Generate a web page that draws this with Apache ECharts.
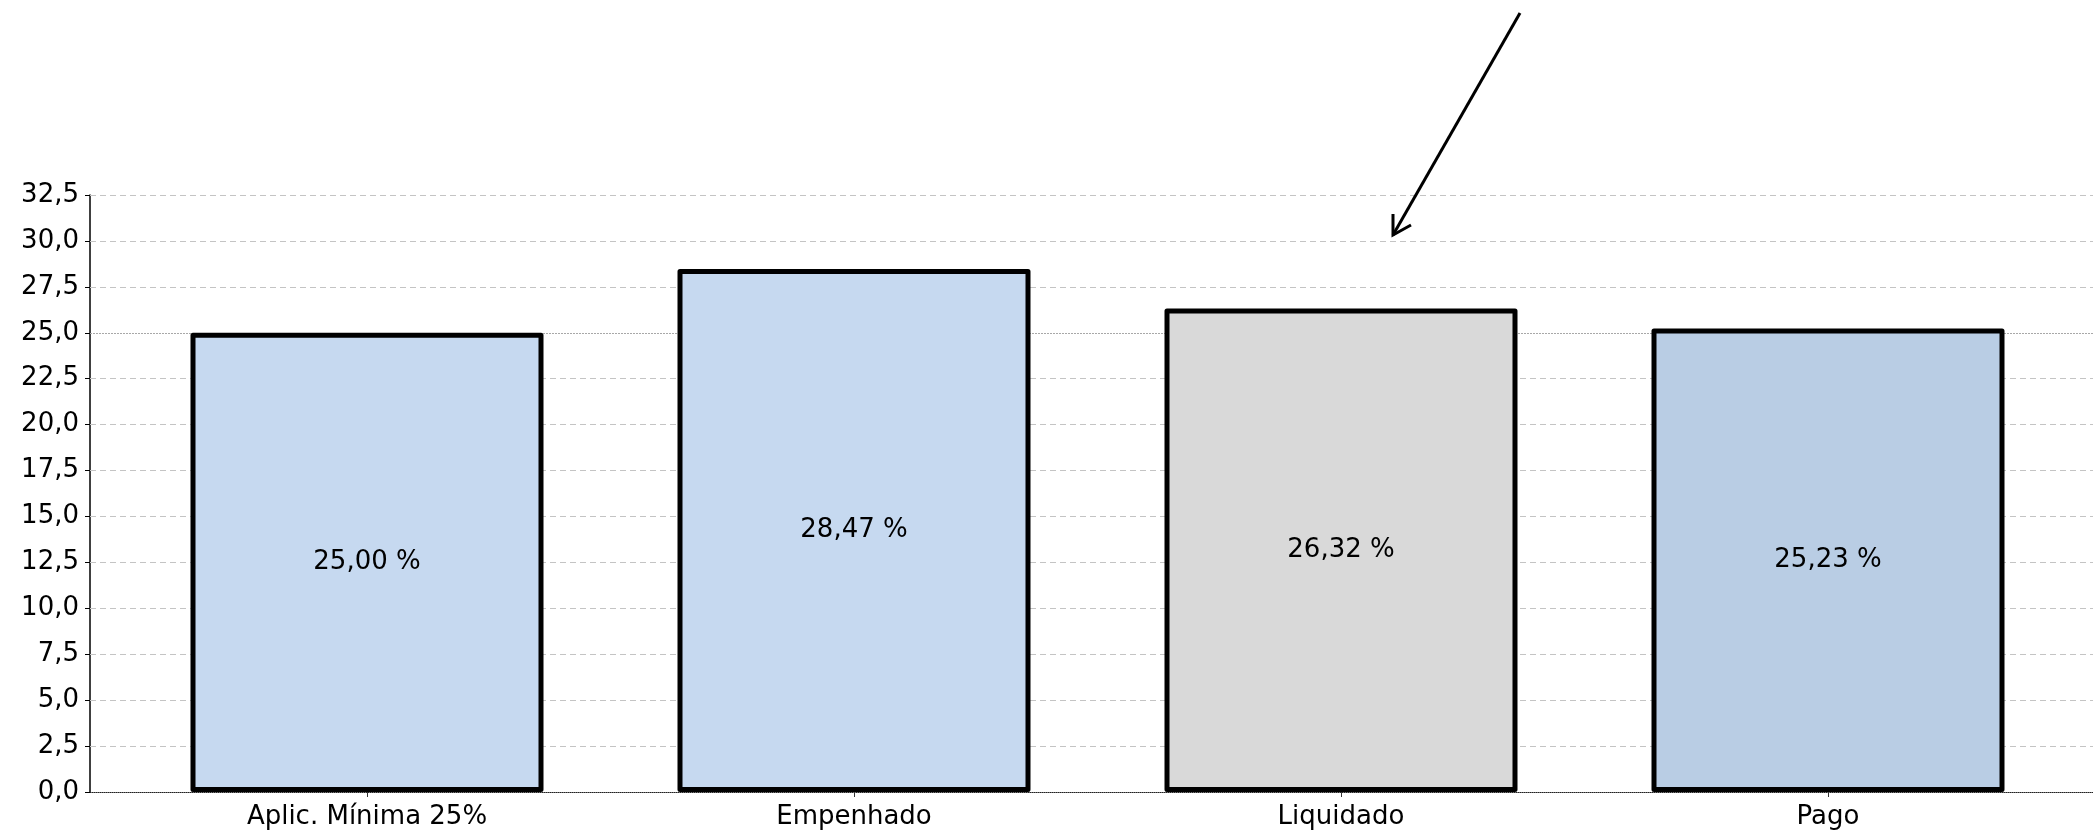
<!DOCTYPE html>
<html>
<head>
<meta charset="utf-8">
<script src="https://cdn.jsdelivr.net/npm/echarts@6/dist/echarts.min.js"></script>
<style>
html,body{margin:0;padding:0;background:#fff;}
#chart{width:2093px;height:840px;}
</style>
</head>
<body>
<div id="chart"></div>
<script>
// ---- data ----
var categories = ['Aplic. Mínima 25%', 'Empenhado', 'Liquidado', 'Pago'];
var percentValues = [25.00, 28.47, 26.32, 25.23];
var yTicks = [0, 2.5, 5, 7.5, 10, 12.5, 15, 17.5, 20, 22.5, 25, 27.5, 30, 32.5];
var minimumLine = 25;

// ---- styles ----
var barColors = ['#C6D9F0', '#C6D9F0', '#D9D9D9', '#B9CDE4'];
var FONT = 'DejaVu Sans';

function fmt(v, d) { return v.toFixed(d).replace('.', ','); }

var chart = echarts.init(document.getElementById('chart'), null, {renderer: 'canvas'});

var yMin = yTicks[0], yMax = yTicks[yTicks.length - 1], yInt = yTicks[1] - yTicks[0];

var gridLines = yTicks.filter(function (t) { return t !== yMin; }).map(function (t) {
  if (t === minimumLine) {
    return {yAxis: t, lineStyle: {type: [2, 1], color: '#a8a8a8', width: 1}};
  }
  return {yAxis: t, lineStyle: {type: [6, 4], color: '#c4c4c4', width: 1}};
});

var option = {
  backgroundColor: '#ffffff',
  animation: false,
  textStyle: {fontFamily: FONT},
  grid: [
    {left: 90, right: 0, top: 195, bottom: 48, containLabel: false},
    {left: 123.5, right: 21.5, top: 195, bottom: 48, containLabel: false}
  ],
  xAxis: [
    {
      gridIndex: 0, type: 'value', min: 0, max: 1,
      axisLine: {show: true, onZero: false, lineStyle: {color: '#222', width: 1, type: [1, 1]}},
      axisTick: {show: false}, axisLabel: {show: false}, splitLine: {show: false}
    },
    {
      gridIndex: 1, type: 'category', data: categories,
      axisLine: {show: false},
      axisTick: {show: true, alignWithLabel: true, length: 5, lineStyle: {color: '#333', width: 1}},
      axisLabel: {fontSize: 26, color: '#000', fontFamily: FONT, margin: 12},
      splitLine: {show: false}
    }
  ],
  yAxis: [
    {
      gridIndex: 0, type: 'value', min: yMin, max: yMax, interval: yInt,
      axisLine: {show: true, lineStyle: {color: '#000', width: 1.5}},
      axisTick: {show: true, length: 5, lineStyle: {color: '#000', width: 1}},
      axisLabel: {fontSize: 26, color: '#000', fontFamily: FONT, margin: 11,
        formatter: function (v) { return fmt(v, 1); }},
      splitLine: {show: false}
    },
    {
      gridIndex: 1, type: 'value', min: yMin, max: yMax, interval: yInt, show: false,
      splitLine: {show: false}
    }
  ],
  series: [
    {
      type: 'line', xAxisIndex: 0, yAxisIndex: 0, data: [], symbol: 'none', z: 0, silent: true,
      markLine: {
        silent: true, symbol: ['none', 'none'], label: {show: false},
        data: gridLines
      }
    },
    {
      type: 'bar', xAxisIndex: 1, yAxisIndex: 1, barWidth: 353, z: 5,
      data: percentValues.map(function (v, i) {
        return {value: v, itemStyle: {color: barColors[i]}};
      }),
      itemStyle: {borderColor: '#000', borderWidth: 5, borderJoin: 'round'},
      label: {
        show: true, position: 'inside', fontSize: 26, color: '#000', fontFamily: FONT,
        formatter: function (p) { return fmt(p.value, 2) + ' %'; }
      }
    }
  ],
  graphic: [
    {type: 'polyline', z: 100, shape: {points: [[1520, 13], [1393, 235]]},
      style: {stroke: '#000', lineWidth: 3, fill: null}},
    {type: 'polyline', z: 100, shape: {points: [[1393, 214], [1393, 235], [1411, 225]]},
      style: {stroke: '#000', lineWidth: 3, fill: null}}
  ]
};

chart.setOption(option);
</script>
</body>
</html>
